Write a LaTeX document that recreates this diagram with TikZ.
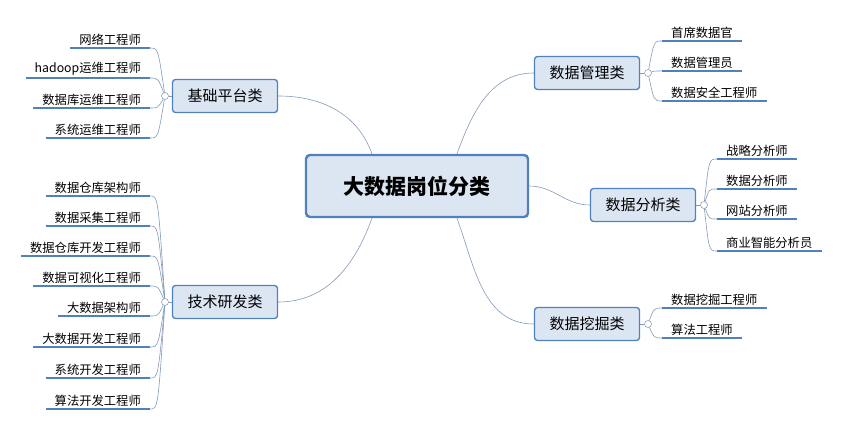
\documentclass[tikz,border=0pt]{standalone}
\usepackage{fontspec}
\setmainfont{Noto Sans CJK SC}
\definecolor{edgeblue}{RGB}{79,129,189}
\definecolor{boxfill}{RGB}{220,230,242}
\tikzset{
  hub/.style={draw=edgeblue, line width=2.4pt, rounded corners=4pt,
    fill=boxfill, font=\fontsize{21}{21}\selectfont\bfseries,
    minimum width=222pt, minimum height=62pt},
  branch/.style={draw=edgeblue, line width=1.3pt, rounded corners=3pt,
    fill=boxfill, font=\fontsize{15}{15}\selectfont,
    minimum width=105pt, minimum height=33pt},
  leaf/.style={font=\fontsize{12.3}{13}\selectfont, inner xsep=9pt, inner ysep=2pt},
  uline/.style={draw=edgeblue, line width=1.8pt},
  twig/.style={draw=edgeblue!60!gray!80, line width=0.6pt},
  knob/.style={circle, draw=edgeblue!60!gray, fill=white, inner sep=0pt, minimum size=7pt}
}
\newcommand{\leftleaf}[4]{% name, y, text, knob
  \node[leaf, anchor=south east] (#1) at (150,#2) {#3};
  \draw[uline] (#1.south west) -- (#1.south east);
  \draw[twig] (#4) .. controls (158,#2) .. (#1.south east);
}
\newcommand{\rightleaf}[5]{% name, x, y, text, knob
  \node[leaf, anchor=south west] (#1) at (#2,#3) {#4};
  \draw[uline] (#1.south west) -- (#1.south east);
  \draw[twig] (#5) .. controls (#2-8,#3) .. (#1.south west);
}
\begin{document}
\begin{tikzpicture}[x=1pt, y=-1pt]
\useasboundingbox (0,0) rectangle (845,426);

\node[hub] (hub) at (417,186) {大数据岗位分类};

\node[branch] (base) at (225,96)  {基础平台类};
\node[branch] (tech) at (225,302) {技术研发类};
\node[branch] (mgmt) at (587,73)  {数据管理类};
\node[branch] (anal) at (643,205) {数据分析类};
\node[branch] (mine) at (587,324) {数据挖掘类};

% hub to branches
\draw[twig] (hub.north) ++(-45,0) coordinate (h1) to[out=110, in=0] (base.east);
\draw[twig] (hub.south) ++(-45,0) coordinate (h2) to[out=-110, in=0] (tech.east);
\draw[twig] (hub.north) ++(40,0) coordinate (h3) to[out=70, in=180] (mgmt.west);
\draw[twig] (hub.east) to[out=0, in=180] (anal.west);
\draw[twig] (hub.south) ++(40,0) coordinate (h4) to[out=-70, in=180] (mine.west);

% knobs
\node[knob] (kb) at (165,96) {};
\node[knob] (kt) at (165,302) {};
\node[knob] (km) at (648,73) {};
\node[knob] (ka) at (704,205) {};
\node[knob] (kn) at (648,324) {};
\foreach \k/\b in {kb/base, kt/tech} \draw[twig] (\k) -- (\b.west);
\foreach \k/\b in {km/mgmt, ka/anal, kn/mine} \draw[twig] (\b.east) -- (\k);

% base platform leaves
\leftleaf{b1}{48}{网络工程师}{kb}
\leftleaf{b2}{78}{hadoop运维工程师}{kb}
\leftleaf{b3}{108}{数据库运维工程师}{kb}
\leftleaf{b4}{138}{系统运维工程师}{kb}

% tech leaves
\leftleaf{t1}{196}{数据仓库架构师}{kt}
\leftleaf{t2}{226}{数据采集工程师}{kt}
\leftleaf{t3}{256}{数据仓库开发工程师}{kt}
\leftleaf{t4}{286}{数据可视化工程师}{kt}
\leftleaf{t5}{316}{大数据架构师}{kt}
\leftleaf{t6}{347}{大数据开发工程师}{kt}
\leftleaf{t7}{378}{系统开发工程师}{kt}
\leftleaf{t8}{409}{算法开发工程师}{kt}

% management leaves
\rightleaf{m1}{662}{41}{首席数据官}{km}
\rightleaf{m2}{662}{71}{数据管理员}{km}
\rightleaf{m3}{662}{101}{数据安全工程师}{km}

% analysis leaves
\rightleaf{a1}{717}{159}{战略分析师}{ka}
\rightleaf{a2}{717}{189}{数据分析师}{ka}
\rightleaf{a3}{717}{219}{网站分析师}{ka}
\rightleaf{a4}{717}{251}{商业智能分析员}{ka}

% mining leaves
\rightleaf{n1}{662}{308}{数据挖掘工程师}{kn}
\rightleaf{n2}{662}{338}{算法工程师}{kn}
\end{tikzpicture}
\end{document}
